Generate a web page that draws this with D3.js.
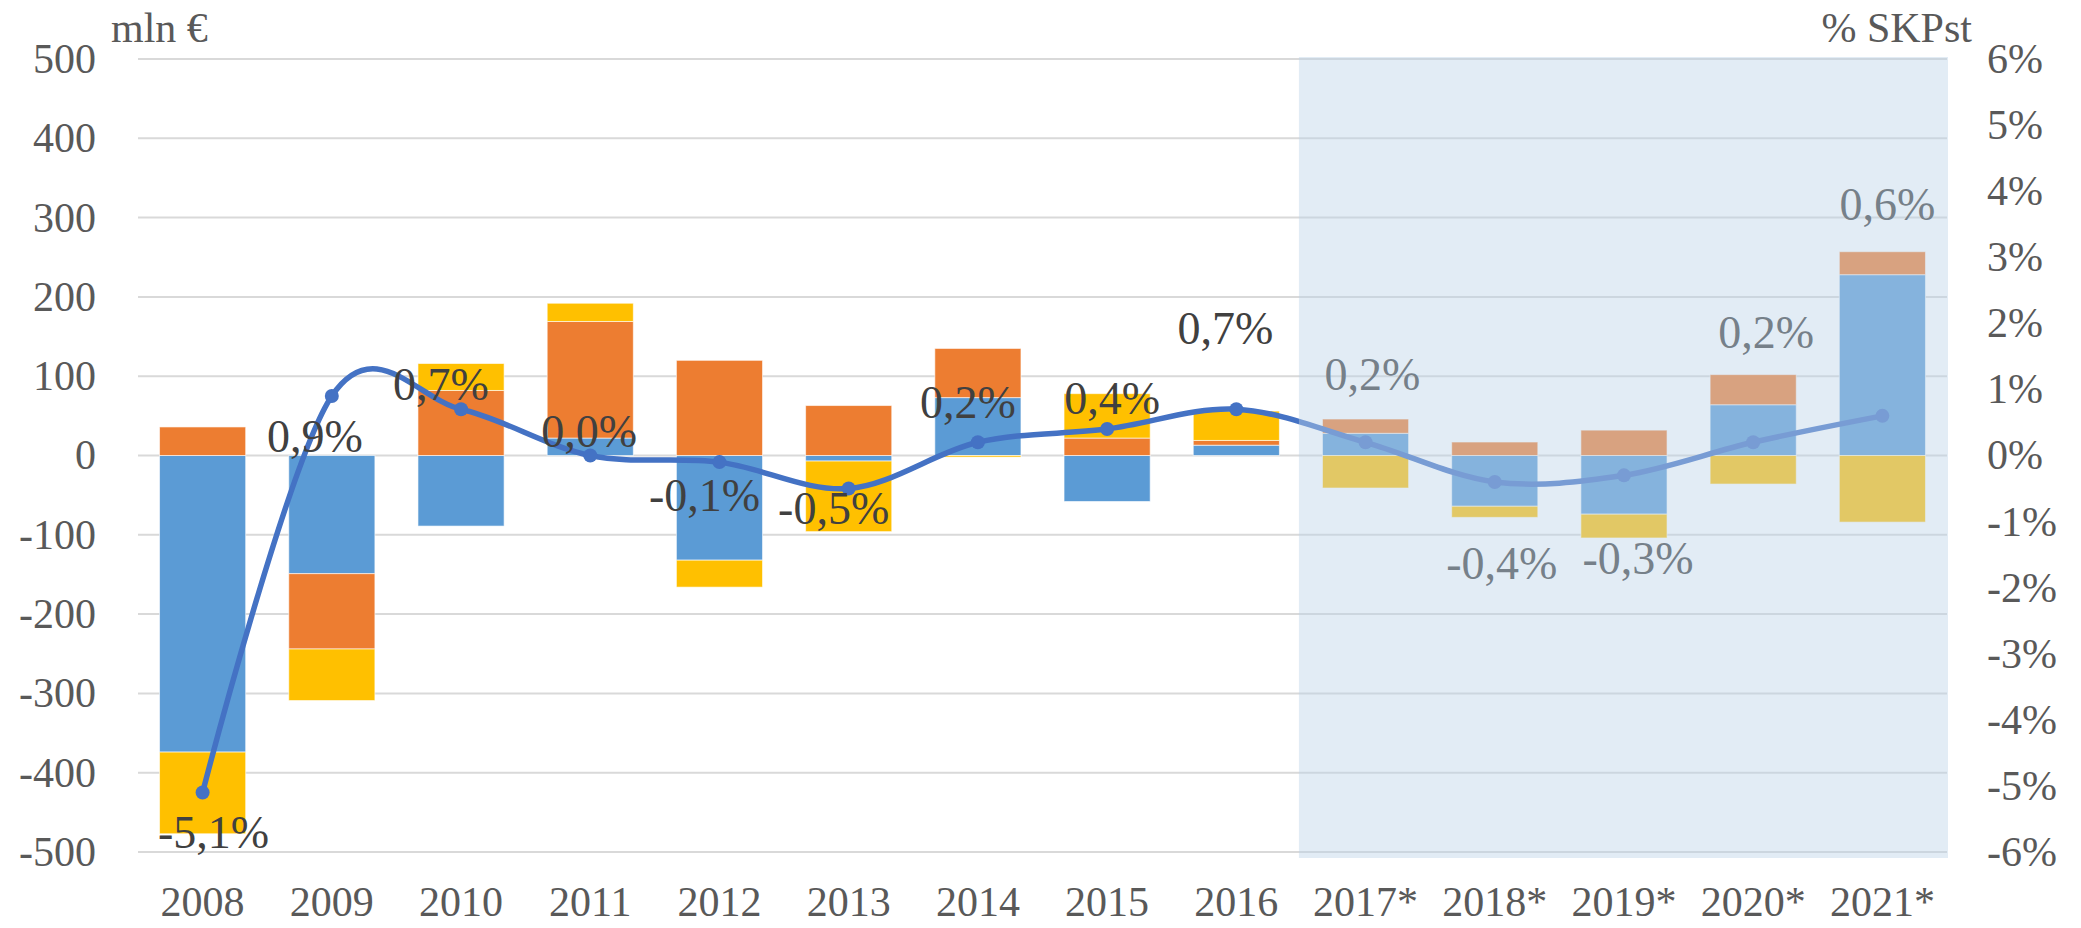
<!DOCTYPE html>
<html>
<head>
<meta charset="utf-8">
<script src="https://cdnjs.cloudflare.com/ajax/libs/d3/7.8.5/d3.min.js"></script>
<style>
  body { margin: 0; background: #fff; }
  text { font-family: "Liberation Serif", "DejaVu Serif", serif; }
</style>
</head>
<body>
<script>
// categories
var years = ["2008", "2009", "2010", "2011", "2012", "2013", "2014", "2015", "2016",
             "2017*", "2018*", "2019*", "2020*", "2021*"];
var forecastFrom = "2017*";

// stacked components, mln €
var blueVals   = [-374, -149, -89,  22, -132,  -7,  73, -58, 13,  28, -64, -74,  64, 228];
var orangeVals = [  36,  -95,  82, 147,  120,  63,  62,  22,  6,  18,  17,  32,  38,  29];
var yellowVals = [-103,  -65,  34,  23,  -34, -89,  -2,  56, 37, -41, -14, -30, -36, -84];

// line, % SKPst
var pctVals = [-5.1, 0.9, 0.7, 0.0, -0.1, -0.5, 0.2, 0.4, 0.7, 0.2, -0.4, -0.3, 0.2, 0.6];

// axis ticks
var leftTicks = [-500, -400, -300, -200, -100, 0, 100, 200, 300, 400, 500];
var rightTicks = [-6, -5, -4, -3, -2, -1, 0, 1, 2, 3, 4, 5, 6];

// hand-placed label nudges (px) relative to each point, like in the original
var labelNudge = [[11, 39], [-17, 40], [-20, -25], [-1, -25], [-15, 33], [-15, 19], [-10, -40],
                  [5, -31], [-11, -81], [7, -68], [7, 81], [14, 83], [13, -110], [5, -212]];

var width = 2081;
var height = 928;

var locale = d3.formatLocale({decimal: ",", thousands: " ", grouping: [3], currency: ["", "€"], minus: "-"});
var fmtPct = locale.format(".1f");
var fmtInt = locale.format("d");

var svg = d3.select("body")
    .append("svg")
    .attr("width", width)
    .attr("height", height);

var x = d3.scaleBand()
    .domain(years)
    .range([138, 1947])
    .paddingInner(1 / 3)
    .paddingOuter(1 / 6);

var y = d3.scaleLinear().domain([-500, 500]).range([852, 59]);
var y2 = d3.scaleLinear().domain([-6, 6]).range([852, 59]);

var colors = ["#5B9BD5", "#ED7D31", "#FFC000"];

//gridlines
svg.append("g")
    .selectAll("line")
    .data(leftTicks)
    .enter()
    .append("line")
    .attr("x1", 138)
    .attr("x2", 1947)
    .attr("y1", function(d) { return y(d); })
    .attr("y2", function(d) { return y(d); })
    .attr("stroke", "#D9D9D9")
    .attr("stroke-width", 2);

//stacked bars
var rows = years.map(function(yr, i) {
    return {year: yr, b: blueVals[i], o: orangeVals[i], yl: yellowVals[i]};
});
var stack = d3.stack()
    .keys(["b", "o", "yl"])
    .offset(d3.stackOffsetDiverging);
var series = stack(rows);

svg.append("g")
    .selectAll("g")
    .data(series)
    .enter()
    .append("g")
    .attr("fill", function(d, i) { return colors[i]; })
    .selectAll("rect")
    .data(function(d) { return d; })
    .enter()
    .append("rect")
    .attr("x", function(d) { return x(d.data.year); })
    .attr("width", x.bandwidth())
    .attr("y", function(d) { return y(Math.max(d[0], d[1])); })
    .attr("height", function(d) { return Math.abs(y(d[0]) - y(d[1])); })
    .attr("stroke", "#ffffff")
    .attr("stroke-opacity", 0.6)
    .attr("stroke-width", 1);

//smooth line on the right axis
var pts = years.map(function(yr, i) {
    return [x(yr) + x.bandwidth() / 2, y2(pctVals[i])];
});
var line = d3.line().curve(d3.curveCardinal.tension(0));

svg.append("path")
    .attr("d", line(pts))
    .attr("fill", "none")
    .attr("stroke", "#4472C4")
    .attr("stroke-width", 5.5)
    .attr("stroke-linecap", "round");

svg.append("g")
    .selectAll("circle")
    .data(pts)
    .enter()
    .append("circle")
    .attr("cx", function(d) { return d[0]; })
    .attr("cy", function(d) { return d[1]; })
    .attr("r", 7)
    .attr("fill", "#4472C4");

//data labels
svg.append("g")
    .selectAll("text")
    .data(pts)
    .enter()
    .append("text")
    .attr("x", function(d, i) { return d[0] + labelNudge[i][0]; })
    .attr("y", function(d, i) { return d[1] + labelNudge[i][1]; })
    .attr("dy", "0.35em")
    .attr("text-anchor", "middle")
    .attr("font-size", 46)
    .attr("fill", "#404040")
    .text(function(d, i) { return fmtPct(pctVals[i]) + "%"; });

//forecast overlay
var step = x.step();
var fx0 = x(forecastFrom) - step * x.paddingInner() / 2 - 2;
svg.append("rect")
    .attr("x", fx0)
    .attr("y", y(500) - 2)
    .attr("width", 1948 - fx0)
    .attr("height", y(-500) - y(500) + 8)
    .attr("fill", "rgb(188,211,232)")
    .attr("fill-opacity", 0.435);

//axes
var axisLeft = svg.append("g")
    .attr("transform", "translate(138,0)")
    .call(d3.axisLeft(y).tickValues(leftTicks).tickSize(0).tickPadding(42).tickFormat(fmtInt));
var axisRight = svg.append("g")
    .attr("transform", "translate(1947,0)")
    .call(d3.axisRight(y2).tickValues(rightTicks).tickSize(0).tickPadding(40)
        .tickFormat(function(d) { return fmtInt(d) + "%"; }));
var axisBottom = svg.append("g")
    .attr("transform", "translate(0,852)")
    .call(d3.axisBottom(x).tickSize(0).tickPadding(34));

[axisLeft, axisRight, axisBottom].forEach(function(a) {
    a.select(".domain").remove();
    a.selectAll("text")
        .attr("font-family", "Liberation Serif, serif")
        .attr("font-size", 42)
        .attr("fill", "#595959");
});

//axis titles
svg.append("text")
    .attr("x", 111)
    .attr("y", 42)
    .attr("font-size", 42)
    .attr("fill", "#595959")
    .text("mln €");
svg.append("text")
    .attr("x", 1972)
    .attr("y", 42)
    .attr("text-anchor", "end")
    .attr("font-size", 42)
    .attr("fill", "#595959")
    .text("% SKPst");
</script>
</body>
</html>
